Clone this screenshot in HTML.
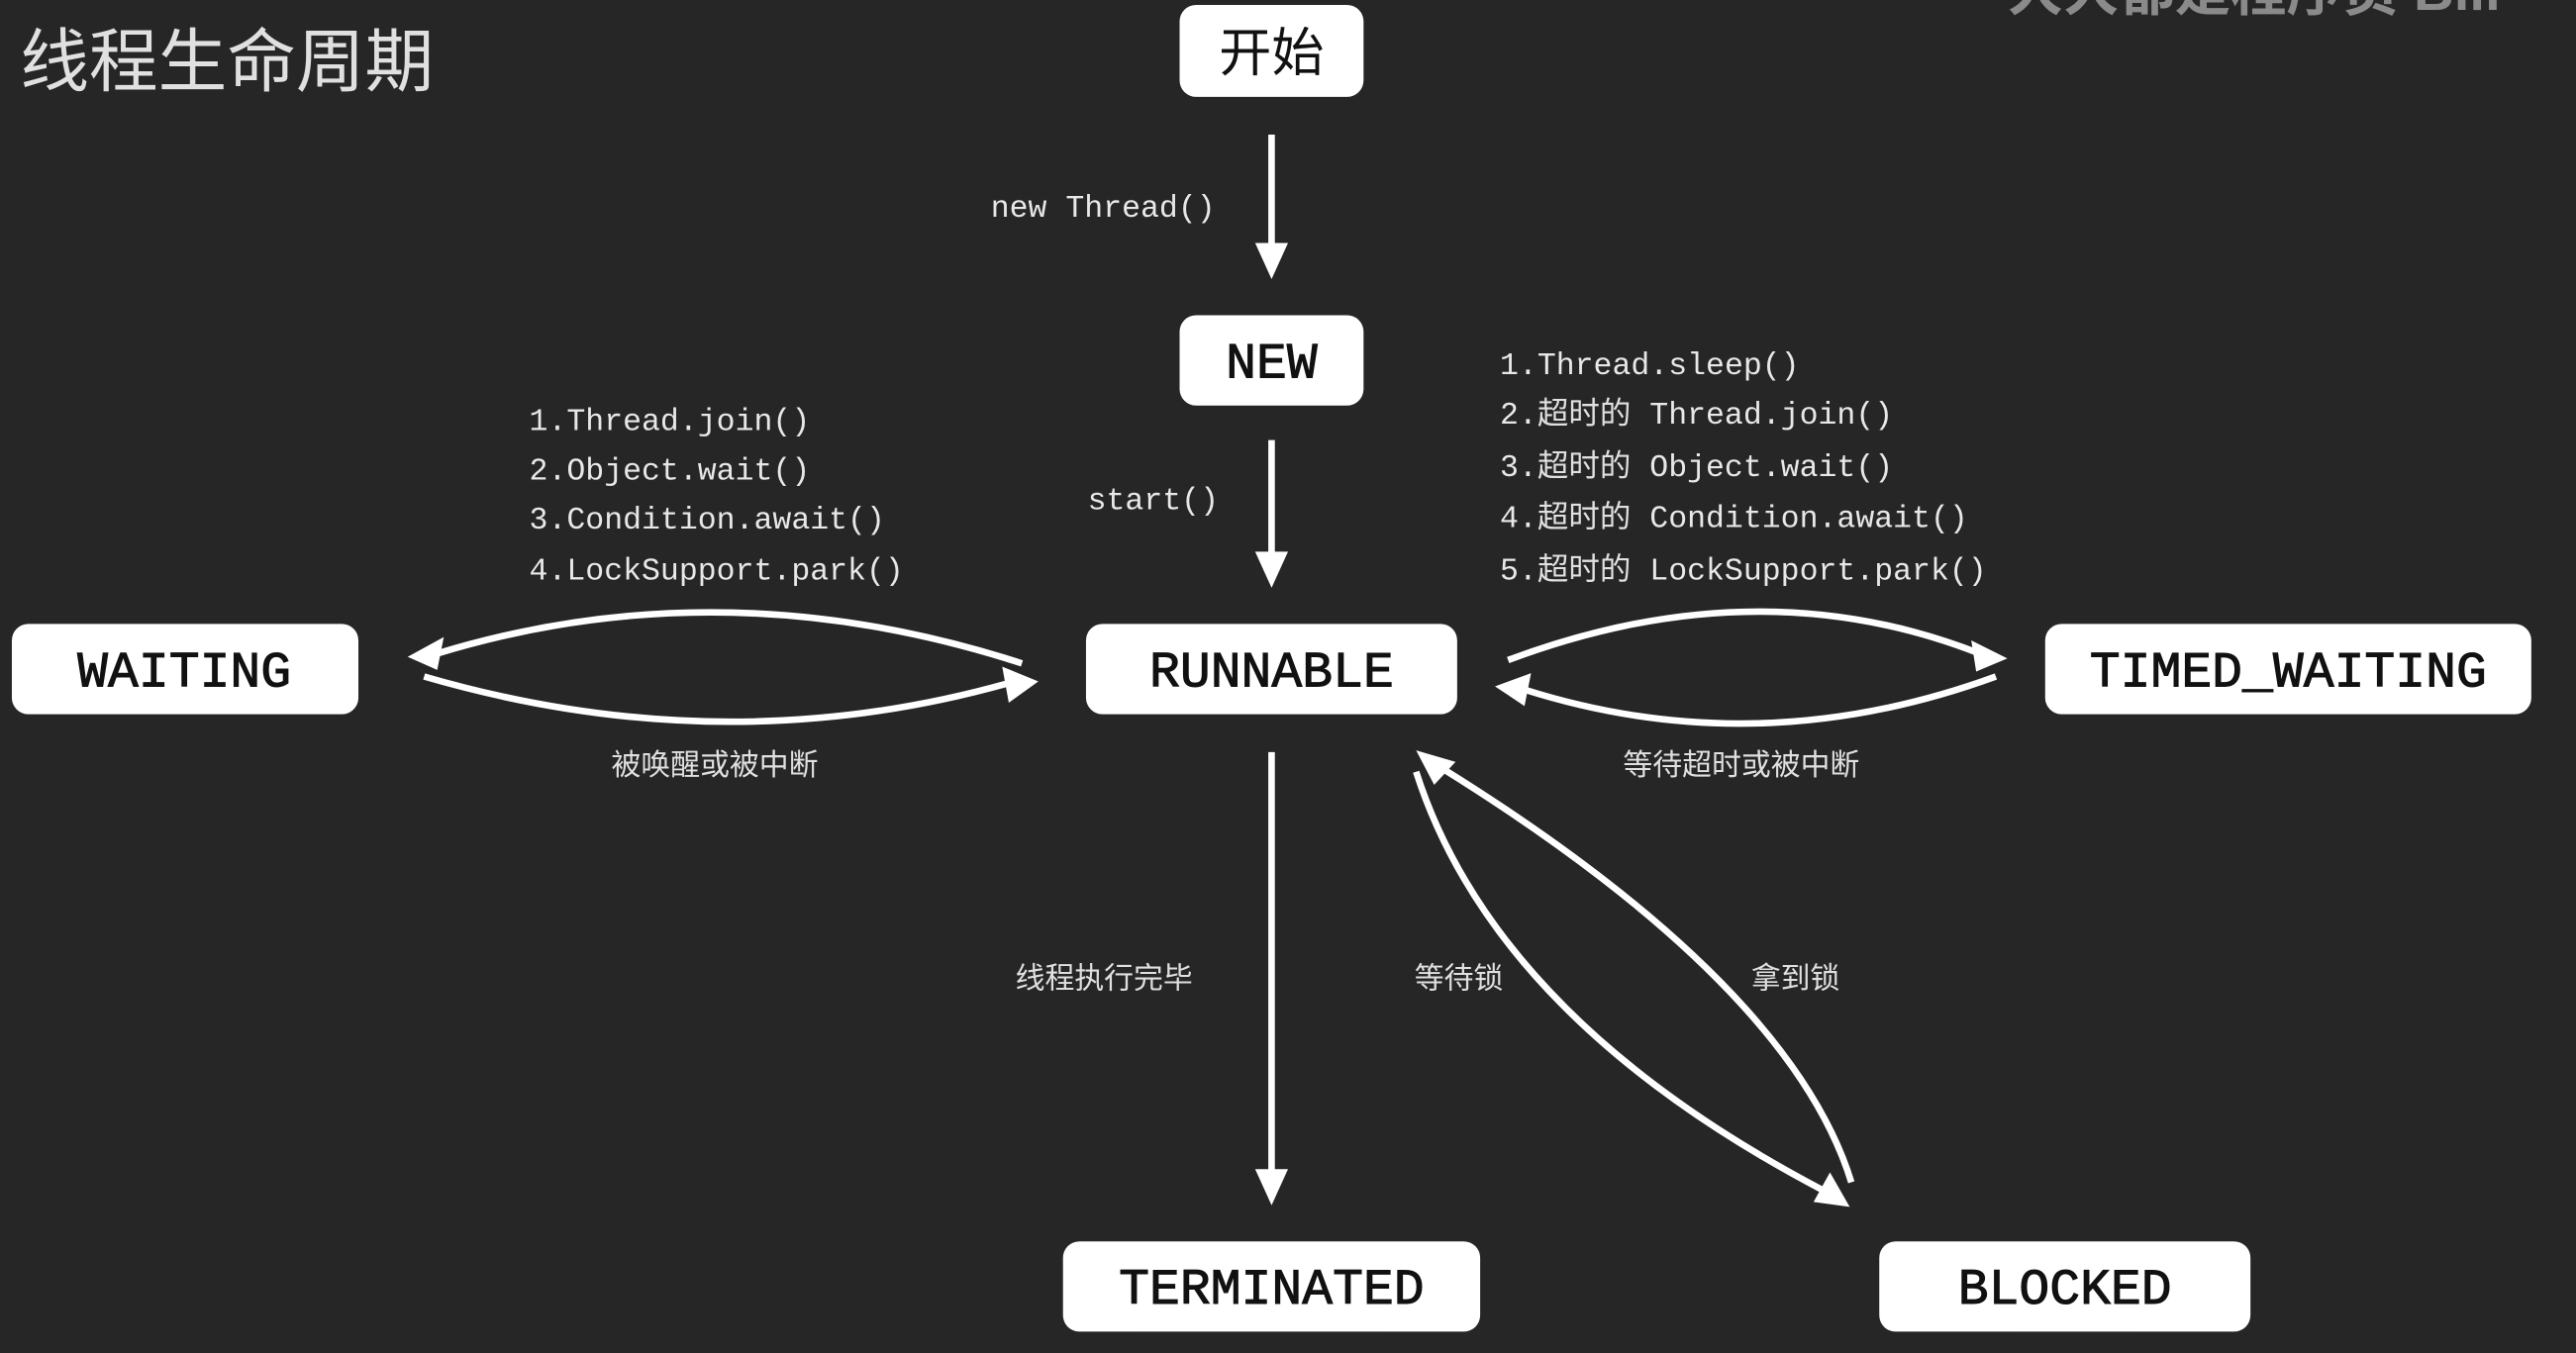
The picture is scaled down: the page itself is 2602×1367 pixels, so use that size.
<!DOCTYPE html>
<html><head><meta charset="utf-8"><style>
html,body{margin:0;padding:0;background:#262626;overflow:hidden}
svg{display:block}
.m{font-family:"Liberation Mono","DejaVu Sans Mono",monospace;fill:#e8e8e8}
.c{font-family:"Liberation Sans","Noto Sans CJK SC",sans-serif;fill:#e0e0e0}
.b{font-family:"Liberation Mono","DejaVu Sans Mono",monospace;fill:#111}
</style></head><body>
<svg width="2602" height="1367" viewBox="0 0 1568 824" xmlns="http://www.w3.org/2000/svg">
<rect width="1568" height="824" fill="#262626"/>
<text x="12" y="52" class="c" font-size="42" fill="#dcdcdc">线程生命周期</text>
<text x="1222" y="6" font-family="Liberation Sans,Noto Sans CJK SC,sans-serif" font-weight="bold" font-size="34" fill="#8a8a8a">大大都是程序员 Bili</text>
<g fill="#fff">
<rect x="718" y="3" width="112" height="56" rx="10"/>
<rect x="718" y="192" width="112" height="55" rx="10"/>
<rect x="661" y="380" width="226" height="55" rx="10"/>
<rect x="7" y="380" width="211" height="55" rx="10"/>
<rect x="1245" y="380" width="296" height="55" rx="10"/>
<rect x="647" y="756" width="254" height="55" rx="10"/>
<rect x="1144" y="756" width="226" height="55" rx="10"/>
</g>
<text x="774" y="43" text-anchor="middle" font-family="Liberation Sans,Noto Sans CJK SC,sans-serif" font-size="32" fill="#111">开始</text>
<g class="b" font-size="31" text-anchor="middle" stroke="#111" stroke-width="0.6">
<text x="774" y="230">NEW</text>
<text x="774" y="418">RUNNABLE</text>
<text x="112" y="418">WAITING</text>
<text x="1393" y="418">TIMED_WAITING</text>
<text x="774" y="794">TERMINATED</text>
<text x="1257" y="794">BLOCKED</text>
</g>
<g stroke="#fff" stroke-width="4" fill="none">
<line x1="774" y1="82" x2="774" y2="150"/>
<line x1="774" y1="268" x2="774" y2="338"/>
<line x1="774" y1="458" x2="774" y2="714"/>
<path d="M622,404 Q440,345 266,398"/>
<path d="M258,412 Q440,465 614,416"/>
<path d="M918,402 Q1070,345 1205,398"/>
<path d="M1215,412 Q1070,465 928,420"/>
<path d="M862,470 Q910,620 1110,725"/>
<path d="M1127,720 Q1090,600 878,468"/>
</g>
<g fill="#fff">
<polygon points="764,148 784,148 774,170"/>
<polygon points="764,336 784,336 774,358"/>
<polygon points="764,712 784,712 774,734"/>
<polygon points="248,400 270,388 266,408"/>
<polygon points="632,415 610,406 614,428"/>
<polygon points="1222,401 1200,390 1203,409"/>
<polygon points="910,418 932,410 928,430"/>
<polygon points="1126,735 1104,732 1114,714"/>
<polygon points="862,457 886,464 873,478"/>
</g>
<g class="m" font-size="19">
<text x="603" y="132">new Thread()</text>
<text x="662" y="310">start()</text>
<text x="322" y="262">1.Thread.join()</text>
<text x="322" y="292">2.Object.wait()</text>
<text x="322" y="322">3.Condition.await()</text>
<text x="322" y="353">4.LockSupport.park()</text>
<text x="913" y="228">1.Thread.sleep()</text>
<text x="913" y="258">2.<tspan class="c" font-size="19">超时的</tspan> Thread.join()</text>
<text x="913" y="290">3.<tspan class="c" font-size="19">超时的</tspan> Object.wait()</text>
<text x="913" y="321">4.<tspan class="c" font-size="19">超时的</tspan> Condition.await()</text>
<text x="913" y="353">5.<tspan class="c" font-size="19">超时的</tspan> LockSupport.park()</text>
</g>
<g class="c" font-size="18">
<text x="372" y="472">被唤醒或被中断</text>
<text x="988" y="472">等待超时或被中断</text>
<text x="618" y="602">线程执行完毕</text>
<text x="861" y="602">等待锁</text>
<text x="1066" y="602">拿到锁</text>
</g>
</svg>
</body></html>
